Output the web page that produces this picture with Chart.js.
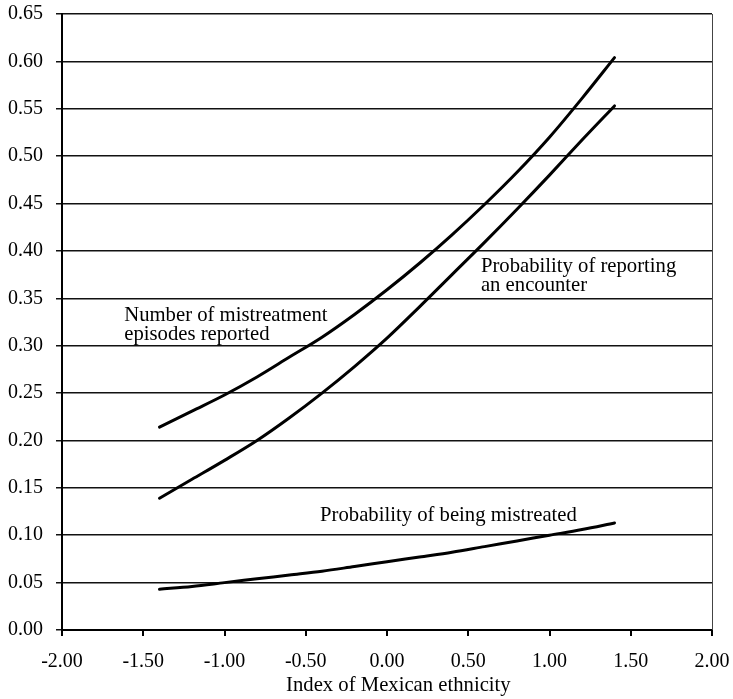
<!DOCTYPE html>
<html>
<head>
<meta charset="utf-8">
<script src="https://cdn.jsdelivr.net/npm/chart.js@4.4.1/dist/chart.umd.min.js"></script>
<style>
  html, body { margin: 0; padding: 0; background: #fff; }
  #wrap { width: 733px; height: 699px; position: relative; }
</style>
</head>
<body>
<div id="wrap"><canvas id="chart"></canvas></div>
<script>
// Values
const ethnicityIndex = [-1.4, -1.2, -1.0, -0.8, -0.6, -0.4, -0.2, 0.0, 0.2, 0.4, 0.6, 0.8, 1.0, 1.2, 1.4];
const episodesReported = [0.214, 0.231, 0.248, 0.267, 0.288, 0.309, 0.333, 0.359, 0.387, 0.417, 0.449, 0.483, 0.520, 0.561, 0.604];
const probReporting = [0.139, 0.159, 0.179, 0.200, 0.224, 0.250, 0.278, 0.308, 0.341, 0.375, 0.409, 0.444, 0.480, 0.517, 0.553];
const probMistreated = [0.043, 0.046, 0.050, 0.054, 0.058, 0.062, 0.067, 0.072, 0.077, 0.082, 0.088, 0.094, 0.100, 0.106, 0.113];

const curveLabels = [
    { lines: ['Number of mistreatment', 'episodes reported'], x: -1.617, y: 0.326 },
    { lines: ['Probability of reporting', 'an encounter'], x: 0.578, y: 0.378 },
    { lines: ['Probability of being mistreated'], x: -0.412, y: 0.115 }
];
const xAxisTitle = 'Index of Mexican ethnicity';

const FONT = "'Liberation Serif', 'Times New Roman', serif";

function toPoints(xs, ys) {
    return xs.map((x, i) => ({ x: x, y: ys[i] }));
}

function curve(label, values) {
    return {
        label: label,
        data: toPoints(ethnicityIndex, values),
        borderColor: '#000',
        borderWidth: 3,
        borderCapStyle: 'round',
        pointRadius: 0,
        cubicInterpolationMode: 'monotone',
        fill: false
    };
}

// text labels next to the curves, axis title, right frame line
const annotate = {
    id: 'annotate',
    afterDatasetsDraw(chart) {
        const { ctx, chartArea, scales } = chart;
        ctx.save();
        ctx.strokeStyle = '#444';
        ctx.lineWidth = 1;
        ctx.beginPath();
        ctx.moveTo(chartArea.right + 0.5, chartArea.top);
        ctx.lineTo(chartArea.right + 0.5, chartArea.bottom);
        ctx.stroke();

        ctx.fillStyle = '#000';
        ctx.font = '20.7px ' + FONT;
        ctx.textAlign = 'left';
        ctx.textBaseline = 'alphabetic';
        curveLabels.forEach(l => {
            const px = scales.x.getPixelForValue(l.x);
            const py = scales.y.getPixelForValue(l.y);
            l.lines.forEach((t, i) => ctx.fillText(t, px, py + i * 19));
        });

        ctx.textAlign = 'center';
        ctx.fillText(xAxisTitle, scales.x.getPixelForValue(0.07), chartArea.bottom + 61);
        ctx.restore();
    }
};

new Chart(document.getElementById('chart'), {
    type: 'line',
    data: {
        datasets: [
            curve('Number of mistreatment episodes reported', episodesReported),
            curve('Probability of reporting an encounter', probReporting),
            curve('Probability of being mistreated', probMistreated)
        ]
    },
    options: {
        responsive: true,
        maintainAspectRatio: false,
        animation: false,
        layout: { padding: { top: 14, right: 21, left: 0, bottom: 0 } },
        plugins: {
            legend: { display: false },
            tooltip: { enabled: false }
        },
        scales: {
            x: {
                type: 'linear',
                min: -2,
                max: 2,
                afterFit: function(scale) {
                    scale.height = 69;
                    scale.paddingLeft = 0;
                    scale.paddingRight = 0;
                },
                ticks: {
                    stepSize: 0.5,
                    color: '#000',
                    padding: 14,
                    maxRotation: 0,
                    font: { family: FONT, size: 20 },
                    callback: v => v.toFixed(2)
                },
                grid: {
                    drawOnChartArea: false,
                    drawTicks: true,
                    tickLength: 6,
                    color: '#000',
                    lineWidth: 2
                },
                border: { color: '#000', width: 2 }
            },
            y: {
                min: 0,
                max: 0.65,
                afterFit: function(scale) {
                    scale.width = 62;
                    scale.paddingTop = 0;
                    scale.paddingBottom = 0;
                },
                ticks: {
                    stepSize: 0.05,
                    color: '#000',
                    padding: 13,
                    font: { family: FONT, size: 20 },
                    callback: v => v.toFixed(2)
                },
                grid: {
                    color: '#111',
                    lineWidth: 1.5,
                    tickLength: 6
                },
                border: { color: '#000', width: 2 }
            }
        }
    },
    plugins: [annotate]
});
</script>
</body>
</html>
